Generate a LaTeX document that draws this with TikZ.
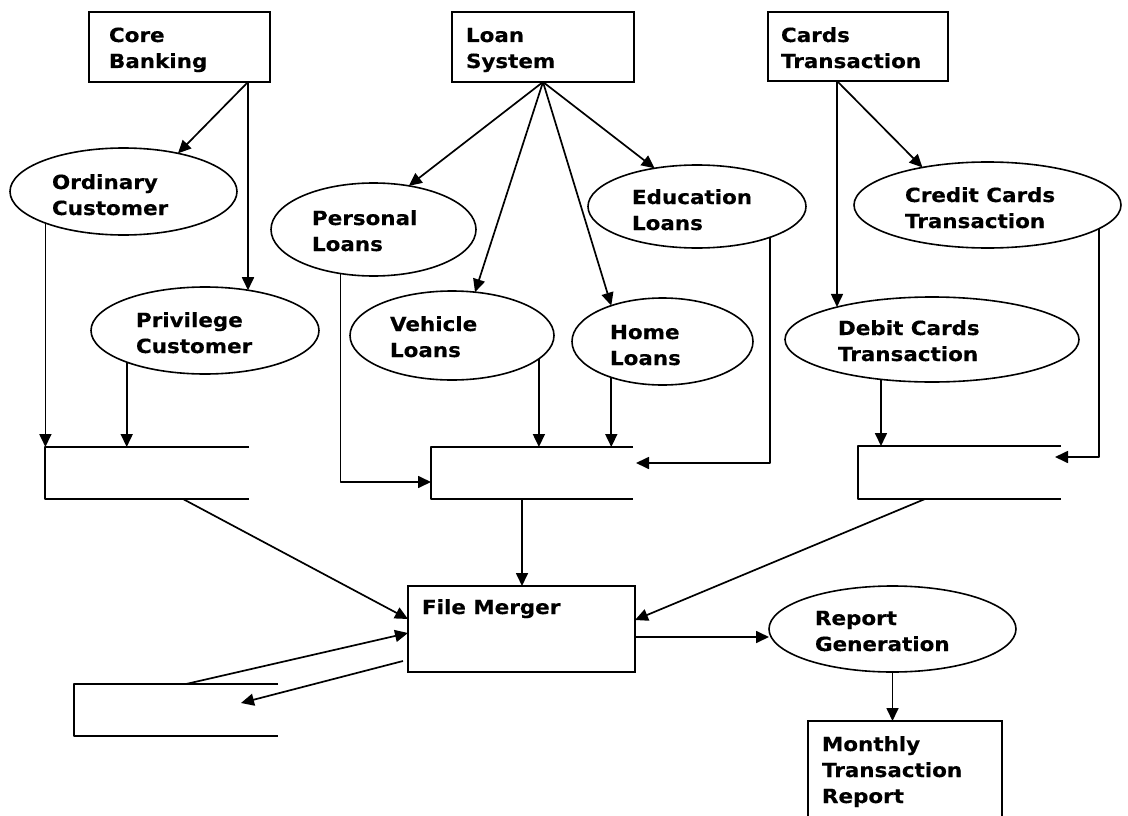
\documentclass[tikz,border=0pt]{standalone}
\usepackage{fontspec}
\newfontfamily\diagfont[FakeStretch=1.1,FakeBold=0.4]{DejaVu Sans}
\usetikzlibrary{arrows.meta,shapes.geometric}
\begin{document}
\begin{tikzpicture}[x=1pt,y=-1pt,
  every node/.style={inner sep=0pt, outer sep=0pt},
  line/.style={line width=1.7pt, line join=round},
  arr/.style={line, -{Triangle[length=13pt,width=12pt]}},
  box/.style={draw, line width=1.7pt, rectangle, anchor=north west},
  store/.style={rectangle, anchor=north west},
  proc/.style={draw, line width=1.6pt, ellipse},
  lbl/.style={anchor=base west, align=left,
    font=\diagfont\bfseries\fontsize{19.5}{26}\selectfont},
]
\useasboundingbox (0,0) rectangle (1128,816);
\clip (0,0) rectangle (1128,816);

% source systems
\node[box, minimum width=181pt, minimum height=70pt] (cb) at (89,12) {};
\node[box, minimum width=182pt, minimum height=70pt] (ls) at (452,12) {};
\node[box, minimum width=180pt, minimum height=69pt] (ct) at (768,12) {};

% processes
\node[proc, minimum width=227pt, minimum height=87pt] (oc) at (123.5,191.5) {};
\node[proc, minimum width=228pt, minimum height=87pt] (pc) at (205,330.5) {};
\node[proc, minimum width=205pt, minimum height=93pt] (pl) at (373.5,229.5) {};
\node[proc, minimum width=204pt, minimum height=89pt] (vl) at (452,335.5) {};
\node[proc, minimum width=181pt, minimum height=87pt] (hl) at (662.5,341.5) {};
\node[proc, minimum width=218pt, minimum height=83pt] (el) at (697,206.5) {};
\node[proc, minimum width=267pt, minimum height=86pt] (cc) at (987.5,205) {};
\node[proc, minimum width=294pt, minimum height=85pt] (dc) at (932,339.5) {};
\node[proc, minimum width=247pt, minimum height=86pt] (rg) at (892.5,629) {};

% merger and report
\node[box, minimum width=227pt, minimum height=86pt] (fm) at (408,586) {};
\node[box, minimum width=194pt, minimum height=130pt] (mr) at (808,721) {};

% data stores (open on the right)
\node[store, minimum width=204pt, minimum height=52pt] (d1) at (45,447) {};
\node[store, minimum width=202pt, minimum height=52pt] (d2) at (431,447) {};
\node[store, minimum width=203pt, minimum height=53pt] (d3) at (858,446) {};
\node[store, minimum width=204pt, minimum height=52pt] (d4) at (74,684) {};
\foreach \s in {d1,d2,d3,d4}
  \draw[line] (\s.north east) -- (\s.north west) -- (\s.south west) -- (\s.south east);

% labels (anchored at the baseline of their last line)
\node[lbl] (cbT) at (109,68) {Core\\Banking};
\node[lbl] (lsT) at (466,68) {Loan\\System};
\node[lbl] (ctT) at (781,68) {Cards\\Transaction};
\node[lbl] (ocT) at (52,215) {Ordinary\\Customer};
\node[lbl] (pcT) at (136,353) {Privilege\\Customer};
\node[lbl] (plT) at (312,251) {Personal\\Loans};
\node[lbl] (vlT) at (390,357) {Vehicle\\Loans};
\node[lbl] (hlT) at (610,365) {Home\\Loans};
\node[lbl] (elT) at (632,230) {Education\\Loans};
\node[lbl] (ccT) at (905,228) {Credit Cards\\Transaction};
\node[lbl] (dcT) at (838,361) {Debit Cards\\Transaction};
\node[lbl] (fmT) at (422,614) {File Merger};
\node[lbl] (rgT) at (815,651) {Report\\Generation};
\node[lbl] (mrT) at (822,803) {Monthly\\Transaction\\Report};

% core banking branches
\coordinate (cbo) at ([xshift=-22pt]cb.south east);
\draw[arr] (cbo) -- (oc.35);
\draw[arr] (cbo) -- (cbo |- pc.43);

% loan system branches
\draw[arr] (ls.south) -- (pl.51);
\draw[arr] (ls.south) -- (vl.62);
\draw[arr] (ls.south) -- (hl.145);
\draw[arr] (ls.south) -- (el.138);

% cards branches
\coordinate (cto) at ([xshift=69pt]ct.south west);
\draw[arr] (cto) -- (cc.150);
\draw[arr] (cto) -- (cto |- dc.161);

% into the data stores
\draw[arr] (oc.202) -- (oc.202 |- d1.north);
\draw[arr] (pc.202) -- (pc.202 |- d1.north);
\draw[arr] (pl.233) |- ([yshift=-9pt]d2.west);
\draw[arr] (vl.-15) -- (vl.-15 |- d2.north);
\draw[arr] (hl.215) -- (hl.215 |- d2.north);
\draw[arr] (el.-23) |- ([xshift=3pt,yshift=10pt]d2.east);
\draw[arr] (cc.-12) |- ([xshift=-6pt,yshift=15.5pt]d3.east);
\draw[arr] (dc.218) -- (dc.218 |- d3.north);

% into the file merger
\coordinate (d1o) at ([xshift=138pt]d1.south west);
\draw[arr] (d1o) -- ([yshift=10pt]fm.west);
\coordinate (d2o) at ([xshift=91pt]d2.south west);
\draw[arr] (d2o) -- (d2o |- fm.north);
\coordinate (d3o) at ([xshift=67pt]d3.south west);
\draw[arr] (d3o) -- ([yshift=9pt]fm.east);
\coordinate (d4o) at ([xshift=112pt]d4.north west);
\draw[arr] (d4o) -- ([yshift=-4pt]fm.west);
\draw[arr] ([xshift=-5pt,yshift=-32pt]fm.west) -- ([xshift=-37pt,yshift=7pt]d4.east);

% reporting
\draw[arr] ([yshift=-8pt]fm.east) -- ([yshift=-8pt]rg.west);
\draw[arr] (rg.south) -- (rg.south |- mr.north);
\end{tikzpicture}
\end{document}
